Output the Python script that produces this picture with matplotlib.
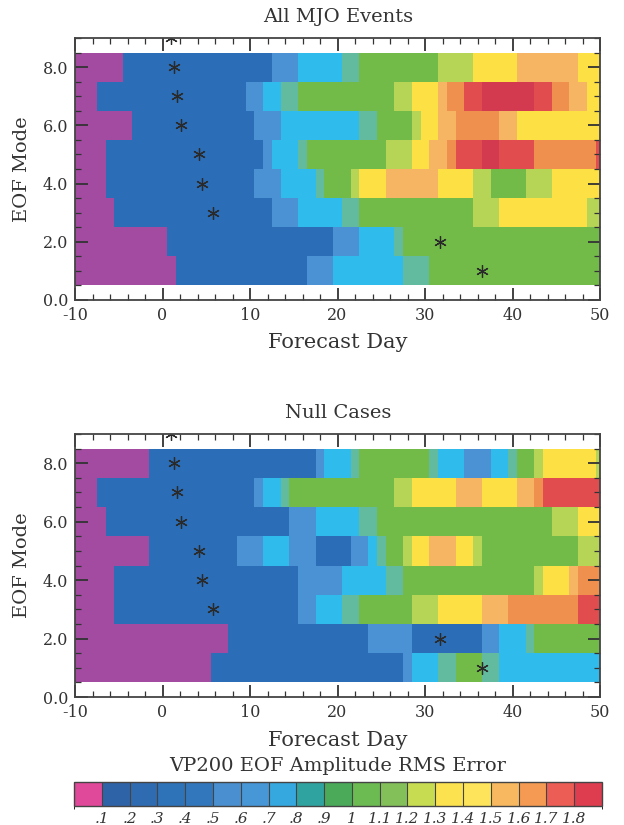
import numpy as np
import matplotlib
matplotlib.use("Agg")
import matplotlib.pyplot as plt
from matplotlib.colors import ListedColormap, BoundaryNorm
from matplotlib.ticker import MultipleLocator, FixedLocator
import matplotlib.cm as cm

plt.rcParams['font.family'] = ['DejaVu Serif']
plt.rcParams['axes.unicode_minus'] = False

# ---------------- data ----------------
days = np.arange(-10, 51)          # forecast day (cell centres)
modes = np.arange(1, 9)            # EOF mode (cell centres)

# RMS-error class per cell, one base-19 digit per day (-10 .. 50);
# class k means RMS error in [k/10, (k+1)/10)
# rows listed from EOF mode 1 (bottom) to mode 8 (top)
mjo_rows = [
    "0000000000" "0044444444" "4444444555" "7777777788" "8aaaaaaaaa" "aaaaaaaaaa" "a",  # mode 1
    "0000000000" "0444444444" "4444444444" "55577778aa" "aaaaaaaaaa" "aaaaaaaaaa" "a",  # mode 2
    "0000044444" "4444444444" "4445557777" "788aaaaaaa" "aaaaaacccd" "dddddddddc" "c",  # mode 3
    "0000444444" "4444444444" "455577778a" "aacdddffff" "ffddddccaa" "aacccddddd" "d",  # mode 4
    "0000444444" "4444444444" "4457778aaa" "aaaaaacccd" "dffghhhiih" "hhhggggggg" "h",  # mode 5
    "0000000444" "4444444444" "4555777777" "77788aaaac" "ddffgggggf" "fddddddddd" "d",  # mode 6
    "0004444444" "4444444444" "557788aaaa" "aaaaaaaccd" "ddfgghhiii" "iiihhggffd" "d",  # mode 7
    "0000004444" "4444444444" "4445557777" "788aaaaaaa" "aaccccdddd" "dfffffffdd" "d",  # mode 8
]
null_rows = [
    "0000000000" "0000004444" "4444444444" "4444444457" "7788aaa887" "7777777777" "7",  # mode 1
    "0000000000" "0000000044" "4444444444" "4444555554" "4444444557" "778aaaaaaa" "a",  # mode 2
    "0000044444" "4444444444" "4444445577" "788aaaaaac" "ccdddddfff" "gggggggghh" "h",  # mode 3
    "0000044444" "4444444444" "4444445555" "57777788aa" "aaaaaaaaaa" "aaacdddfgg" "g",  # mode 4
    "0000000004" "4444444445" "5577755544" "445578aacd" "dfffddcaaa" "aaaaaaaacc" "c",  # mode 5
    "0000444444" "4444444444" "4444455577" "77788aaaaa" "aaaaaaaaaa" "aaaaacccdd" "d",  # mode 6
    "0004444444" "4444444444" "45778aaaaa" "aaaaaaaccd" "ddddfffddd" "dffghhhhhh" "h",  # mode 7
    "0000000004" "4444444444" "4444444457" "778aaaaaaa" "a877755577" "8aacdddddd" "c",  # mode 8
]

# asterisks (same in both panels): forecast day for EOF modes 1..9
star_modes = [1, 2, 3, 4, 5, 6, 7, 8, 9]
star_days = [36.5, 31.7, 5.8, 4.5, 4.2, 2.1, 1.7, 1.3, 1.0]

cb_bounds = [0.0, 0.1, 0.2, 0.3, 0.4, 0.5, 0.6, 0.7, 0.8, 0.9, 1.0,
             1.1, 1.2, 1.3, 1.4, 1.5, 1.6, 1.7, 1.8, 1.9]
cb_ticks = [0.1, 0.2, 0.3, 0.4, 0.5, 0.6, 0.7, 0.8, 0.9, 1.0,
            1.1, 1.2, 1.3, 1.4, 1.5, 1.6, 1.7, 1.8]
cb_labels = ['.1', '.2', '.3', '.4', '.5', '.6', '.7', '.8', '.9', '1',
             '1.1', '1.2', '1.3', '1.4', '1.5', '1.6', '1.7', '1.8']

# ---------------- styling ----------------
map_colors = ['#a24ba0', '#2a66b0', '#2a69b3', '#2a6bb5', '#2b6db6',
              '#4a92d4', '#3fa6e0', '#2fbbeb', '#62bb9e', '#5fb348',
              '#72bb48', '#8cc44c', '#b6d455', '#fde043', '#fde34f',
              '#f6b562', '#f0904f', '#e14d4f', '#d33a4f']
bar_colors = ['#e0489a', '#2f63a8', '#2f6bb0', '#2e72b8', '#3277bc',
              '#4a8fd0', '#4796d6', '#34a8df', '#2fa3a0', '#4aaa5a',
              '#6cba52', '#84c05a', '#c8dc52', '#fde24f', '#fde45a',
              '#f8b860', '#f49a52', '#eb5d55', '#de3d50']
TXT = '#333333'

norm = BoundaryNorm(cb_bounds, len(cb_bounds) - 1)
cmap_map = ListedColormap(map_colors)
cmap_bar = ListedColormap(bar_colors)


def to_grid(rows):
    return np.array([[(int(c, 19) + 0.5) / 10.0 for c in r] for r in rows])


W, H = 624, 825
fig = plt.figure(figsize=(W / 100, H / 100), dpi=100)


def panel(top_px, bot_px, rows, title):
    ax = fig.add_axes([75 / W, 1 - bot_px / H, 525 / W, (bot_px - top_px) / H])
    ax.pcolormesh(days, modes, to_grid(rows), cmap=cmap_map, norm=norm,
                  shading='nearest', rasterized=True)
    ax.plot(star_days, star_modes, linestyle='none', marker=(6, 2, 0),
            markersize=9, markeredgewidth=0.9, color='#2a2a2a', clip_on=True)
    ax.set_xlim(-10, 50)
    ax.set_ylim(0, 9)
    ax.xaxis.set_major_locator(MultipleLocator(10))
    ax.xaxis.set_minor_locator(MultipleLocator(2))
    ax.yaxis.set_major_locator(FixedLocator([0, 2, 4, 6, 8]))
    ax.yaxis.set_minor_locator(MultipleLocator(0.5))
    ax.yaxis.set_major_formatter(matplotlib.ticker.FormatStrFormatter('%.1f'))
    ax.tick_params(which='both', direction='in', top=True, right=True,
                   colors='#333333', labelcolor=TXT, labelsize=11.5)
    ax.tick_params(which='major', length=9, width=1.3, pad=5)
    ax.tick_params(which='minor', length=4.5, width=0.9)
    for s in ax.spines.values():
        s.set_linewidth(1.3)
        s.set_color('#444444')
        s.set_zorder(5)
    ax.set_axisbelow(False)
    mid = (top_px + bot_px) / 2
    fig.text(338 / W, 1 - (top_px - 21) / H, title, ha='center', va='center',
             fontsize=14, color=TXT)
    fig.text(338 / W, 1 - (bot_px + 43) / H, 'Forecast Day', ha='center',
             va='center', fontsize=15, color=TXT)
    fig.text(22 / W, 1 - mid / H, 'EOF Mode', ha='center', va='center',
             rotation=90, fontsize=14, color=TXT)
    return ax


panel(38, 300, mjo_rows, 'All MJO Events')
panel(434, 697, null_rows, 'Null Cases')

fig.text(338 / W, 1 - 766 / H, 'VP200 EOF Amplitude RMS Error', ha='center',
         va='center', fontsize=14, color=TXT)

cax = fig.add_axes([74 / W, 1 - 806 / H, 528 / W, 24 / H])
sm = cm.ScalarMappable(norm=norm, cmap=cmap_bar)
cb = fig.colorbar(sm, cax=cax, orientation='horizontal', drawedges=True,
                  spacing='uniform')
cb.set_ticks(cb_ticks)
cb.set_ticklabels(cb_labels)
cb.ax.tick_params(length=0, labelsize=11, colors=TXT, pad=4)
for lab in cb.ax.get_xticklabels():
    lab.set_fontstyle('italic')
cb.outline.set_linewidth(1.0)
cb.outline.set_edgecolor('#444444')
cb.dividers.set_color('#444444')
cb.dividers.set_linewidth(0.8)

fig.savefig('out.png', dpi=100)
